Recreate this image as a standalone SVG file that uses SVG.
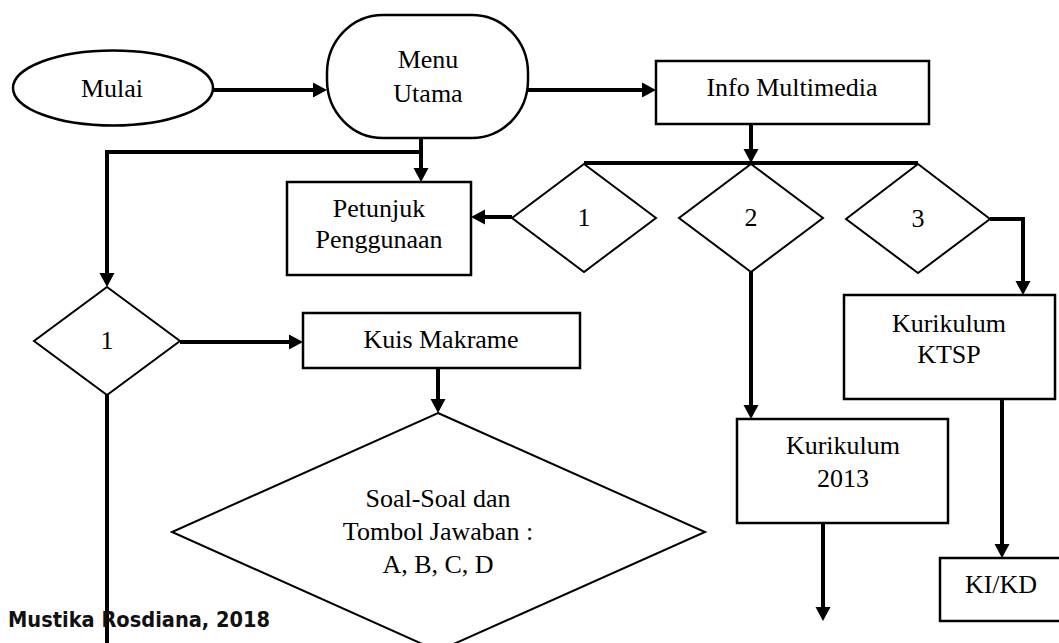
<svg xmlns="http://www.w3.org/2000/svg" width="1059" height="643" viewBox="0 0 1059 643">
  <style>
    .shape { fill: #ffffff; stroke: #000000; stroke-width: 2.5; }
    .diamond { fill: #ffffff; stroke: #000000; stroke-width: 2; }
    .label { font-family: "Liberation Serif", "Times New Roman", serif; font-size: 26px; fill: #000000; text-anchor: middle; }
    .wire { fill: none; stroke: #000000; stroke-width: 4; }
    .note { font-family: "DejaVu Sans", Tahoma, sans-serif; font-weight: bold; font-size: 20.5px; fill: #111111; }
  </style>
  <defs>
    <marker id="head" markerUnits="userSpaceOnUse" markerWidth="15" markerHeight="15" refX="0" refY="7.5" orient="auto" overflow="visible">
      <path d="M0,0 L14,7.5 L0,15 Z" fill="#000000"/>
    </marker>
  </defs>

  <rect width="1059" height="643" fill="#ffffff"/>

  <!-- connectors -->
  <g id="connectors">
    <line class="wire" x1="213" y1="90" x2="313" y2="90" marker-end="url(#head)"/>
    <line class="wire" x1="528" y1="90" x2="642" y2="90" marker-end="url(#head)"/>
    <line class="wire" x1="421" y1="138" x2="421" y2="168" marker-end="url(#head)"/>
    <polyline class="wire" points="421,152 107,152 107,273" marker-end="url(#head)"/>
    <line class="wire" x1="751" y1="124" x2="751" y2="149" marker-end="url(#head)"/>
    <line class="wire" x1="584" y1="163" x2="918" y2="163"/>
    <line class="wire" x1="512" y1="217" x2="485" y2="217" marker-end="url(#head)"/>
    <line class="wire" x1="751" y1="272" x2="751" y2="405" marker-end="url(#head)"/>
    <polyline class="wire" points="990,219 1023,219 1023,281" marker-end="url(#head)"/>
    <line class="wire" x1="823" y1="523" x2="823" y2="607" marker-end="url(#head)"/>
    <line class="wire" x1="1002" y1="399" x2="1002" y2="544" marker-end="url(#head)"/>
    <line class="wire" x1="180" y1="342" x2="289" y2="342" marker-end="url(#head)"/>
    <line class="wire" x1="438" y1="368" x2="438" y2="399" marker-end="url(#head)"/>
    <line class="wire" x1="107" y1="395" x2="107" y2="645"/>
  </g>

  <g id="mulai">
    <ellipse class="shape" cx="113" cy="88" rx="100" ry="37.5"/>
    <text class="label" x="112" y="97">Mulai</text>
  </g>

  <g id="menu-utama">
    <rect class="shape" x="327" y="15" width="201" height="123" rx="56" ry="58"/>
    <text class="label" x="428" y="68">Menu</text>
    <text class="label" x="428" y="102">Utama</text>
  </g>

  <g id="info-multimedia">
    <rect class="shape" x="656" y="61" width="273" height="63"/>
    <text class="label" x="792" y="96">Info Multimedia</text>
  </g>

  <g id="petunjuk">
    <rect class="shape" x="287" y="182" width="184" height="93"/>
    <text class="label" x="379" y="217">Petunjuk</text>
    <text class="label" x="379" y="248">Penggunaan</text>
  </g>

  <g id="pilihan-1">
    <polygon class="diamond" points="584,164 656,218 584,272 512,218"/>
    <text class="label" x="584" y="226">1</text>
  </g>

  <g id="pilihan-2">
    <polygon class="diamond" points="751,164 823,218 751,272 679,218"/>
    <text class="label" x="751" y="226">2</text>
  </g>

  <g id="pilihan-3">
    <polygon class="diamond" points="918,164 990,219 918,273 846,219"/>
    <text class="label" x="918" y="227">3</text>
  </g>

  <g id="pilihan-kuis">
    <polygon class="diamond" points="107,287 180,341 107,395 34,341"/>
    <text class="label" x="107" y="349">1</text>
  </g>

  <g id="kuis-makrame">
    <rect class="shape" x="303" y="313" width="277" height="55"/>
    <text class="label" x="441" y="348">Kuis Makrame</text>
  </g>

  <g id="soal">
    <polygon class="diamond" points="438,413 705,532 438,651 172,532"/>
    <text class="label" x="438" y="507">Soal-Soal dan</text>
    <text class="label" x="438" y="540">Tombol Jawaban :</text>
    <text class="label" x="438" y="573">A, B, C, D</text>
  </g>

  <g id="kurikulum-2013">
    <rect class="shape" x="737" y="419" width="211" height="104"/>
    <text class="label" x="843" y="454">Kurikulum</text>
    <text class="label" x="843" y="487">2013</text>
  </g>

  <g id="kurikulum-ktsp">
    <rect class="shape" x="844" y="295" width="211" height="104"/>
    <text class="label" x="949" y="332">Kurikulum</text>
    <text class="label" x="949" y="363">KTSP</text>
  </g>

  <g id="ki-kd">
    <rect class="shape" x="940" y="558" width="130" height="63"/>
    <text class="label" x="1001" y="593">KI/KD</text>
  </g>

  <text class="note" x="8" y="627" textLength="262" lengthAdjust="spacingAndGlyphs">Mustika Rosdiana, 2018</text>
</svg>
